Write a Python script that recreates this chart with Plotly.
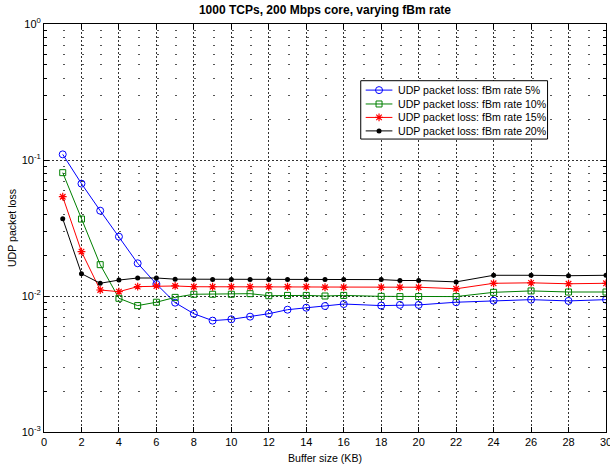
import plotly.graph_objects as go

# Buffer sizes (KB) at which the loss was measured
buffer_kb = [1, 2, 3, 4, 5, 6, 7, 8, 9, 10, 11, 12, 13, 14, 15, 16, 18, 19, 20, 22, 24, 26, 28, 30]

# UDP packet loss for each fBm rate
loss_5 = [0.110, 0.0670, 0.0424, 0.0273, 0.0174, 0.01225, 0.00893, 0.0074, 0.00659, 0.00674,
          0.00705, 0.00741, 0.00793, 0.0082, 0.00844, 0.00873, 0.0085, 0.0086, 0.0086, 0.0090,
          0.00924, 0.0094, 0.0092, 0.0094]
loss_10 = [0.0807, 0.0368, 0.0170, 0.00962, 0.0085, 0.0090, 0.00977, 0.0103, 0.0103, 0.0103,
           0.0104, 0.01005, 0.0101, 0.0101, 0.0100, 0.0101, 0.00994, 0.0099, 0.0099, 0.0099,
           0.01064, 0.0109, 0.0107, 0.0107]
loss_15 = [0.0537, 0.0212, 0.01107, 0.01076, 0.01172, 0.01185, 0.01185, 0.0117, 0.0117, 0.0117,
           0.0117, 0.0117, 0.0117, 0.0117, 0.0116, 0.0116, 0.0116, 0.0116, 0.0116, 0.0113,
           0.0124, 0.0125, 0.0123, 0.0124]
loss_20 = [0.0370, 0.0146, 0.0124, 0.0131, 0.01356, 0.01356, 0.0133, 0.0133, 0.0132, 0.0132,
           0.0132, 0.0132, 0.0132, 0.0132, 0.0132, 0.0132, 0.0132, 0.0130, 0.0130, 0.0127,
           0.0142, 0.0142, 0.0141, 0.0142]

series_names = ["UDP packet loss: fBm rate 5%", "UDP packet loss: fBm rate 10%",
                "UDP packet loss: fBm rate 15%", "UDP packet loss: fBm rate 20%"]

x_ticks = list(range(0, 31, 2))
y_ticks = [1e-3, 1e-2, 1e-1, 1.0]
y_ticktext = ["10<sup>-3</sup>", "10<sup>-2</sup>", "10<sup>-1</sup>", "10<sup>0</sup>"]
y_minor = [m * 10.0 ** e for e in (-3, -2, -1) for m in range(2, 10)]

FONT = "Liberation Sans, Arial, sans-serif"

styles = [
    dict(color="#0000ff", marker=dict(symbol="circle-open", size=7, color="#0000ff", line=dict(width=1, color="#0000ff"))),
    dict(color="#008000", marker=dict(symbol="square-open", size=6, color="#008000", line=dict(width=1, color="#008000"))),
    dict(color="#ff0000", marker=dict(symbol="asterisk-open", size=6.5, color="#ff0000", line=dict(width=1.2, color="#ff0000"))),
    dict(color="#000000", marker=dict(symbol="circle", size=5, color="#000000", line=dict(width=0))),
]

fig = go.Figure()

for ys, name, st in zip([loss_5, loss_10, loss_15, loss_20], series_names, styles):
    fig.add_trace(go.Scatter(
        x=buffer_kb, y=ys, name=name, mode="lines+markers",
        line=dict(color=st["color"], width=1), marker=st["marker"], showlegend=False,
    ))

# Boxed legend drawn on an overlay axis pair spanning the plot area (0..1 both ways)
box_x0, box_x1 = 0.5636, 0.896
box_y0, box_y1 = 0.718, 0.861
fig.add_trace(go.Scatter(
    x=[box_x0, box_x1, box_x1, box_x0, box_x0], y=[box_y0, box_y0, box_y1, box_y1, box_y0],
    mode="lines", fill="toself", fillcolor="white", line=dict(color="black", width=1),
    xaxis="x2", yaxis="y2", showlegend=False, hoverinfo="skip",
))
row_y = [0.838, 0.804, 0.771, 0.738]
sample_x = [0.5724, 0.6199]
for ry, name, st in zip(row_y, series_names, styles):
    fig.add_trace(go.Scatter(
        x=sample_x, y=[ry, ry], mode="lines", line=dict(color=st["color"], width=1),
        xaxis="x2", yaxis="y2", showlegend=False, hoverinfo="skip",
    ))
    fig.add_trace(go.Scatter(
        x=[sum(sample_x) / 2], y=[ry], mode="markers", marker=st["marker"],
        xaxis="x2", yaxis="y2", showlegend=False, hoverinfo="skip",
    ))
    fig.add_annotation(
        x=0.627, y=ry, xref="paper", yref="paper", text=name, showarrow=False,
        xanchor="left", yanchor="middle", font=dict(family=FONT, size=10.6, color="black"),
    )

# Axis titles
fig.add_annotation(x=0.5, y=-0.045, xref="paper", yref="paper", text="Buffer size (KB)",
                   showarrow=False, xanchor="center", yanchor="top",
                   font=dict(family=FONT, size=10.6, color="black"))
fig.add_annotation(x=-0.0568, y=0.5, xref="paper", yref="paper", text="UDP packet loss",
                   showarrow=False, textangle=-90, xanchor="center", yanchor="middle",
                   font=dict(family=FONT, size=10.6, color="black"))

fig.update_layout(
    template="none",
    width=610, height=464,
    margin=dict(l=44, r=4, t=24, b=32),
    paper_bgcolor="white", plot_bgcolor="white",
    font=dict(family=FONT, size=11, color="black"),
    title=dict(text="<b>1000 TCPs, 200 Mbps core, varying fBm rate</b>",
               x=0.5, xref="paper", xanchor="center", y=1 - 10 / 464, yref="container",
               yanchor="middle", font=dict(family=FONT, size=12, color="black")),
    xaxis=dict(
        range=[0, 30], tickmode="array", tickvals=x_ticks, ticks="inside", ticklen=5,
        tickcolor="black", showline=True, linecolor="black", linewidth=1, mirror="ticks",
        showgrid=True, gridcolor="#333333", gridwidth=1, griddash="2px,2px", zeroline=False,
        ticklabeloverflow="allow",
        tickfont=dict(family=FONT, size=11, color="black"),
    ),
    yaxis=dict(
        type="log", range=[-3, 0], tickmode="array", tickvals=y_ticks, ticktext=y_ticktext,
        ticks="inside", ticklen=5, tickcolor="black", showline=True, linecolor="black",
        linewidth=1, mirror="ticks", showgrid=True, gridcolor="#333333", gridwidth=1,
        griddash="2px,2px", zeroline=False, ticklabeloverflow="allow",
        tickfont=dict(family=FONT, size=11, color="black"),
        minor=dict(tickmode="array", tickvals=y_minor, ticks="inside", ticklen=3,
                   tickcolor="black", showgrid=True, gridcolor="#555555", gridwidth=1,
                   griddash="2px,16.75px"),
    ),
    xaxis2=dict(overlaying="x", anchor="y2", range=[0, 1], visible=False),
    yaxis2=dict(overlaying="y", anchor="x2", range=[0, 1], visible=False),
)

fig.write_html("out.html")
